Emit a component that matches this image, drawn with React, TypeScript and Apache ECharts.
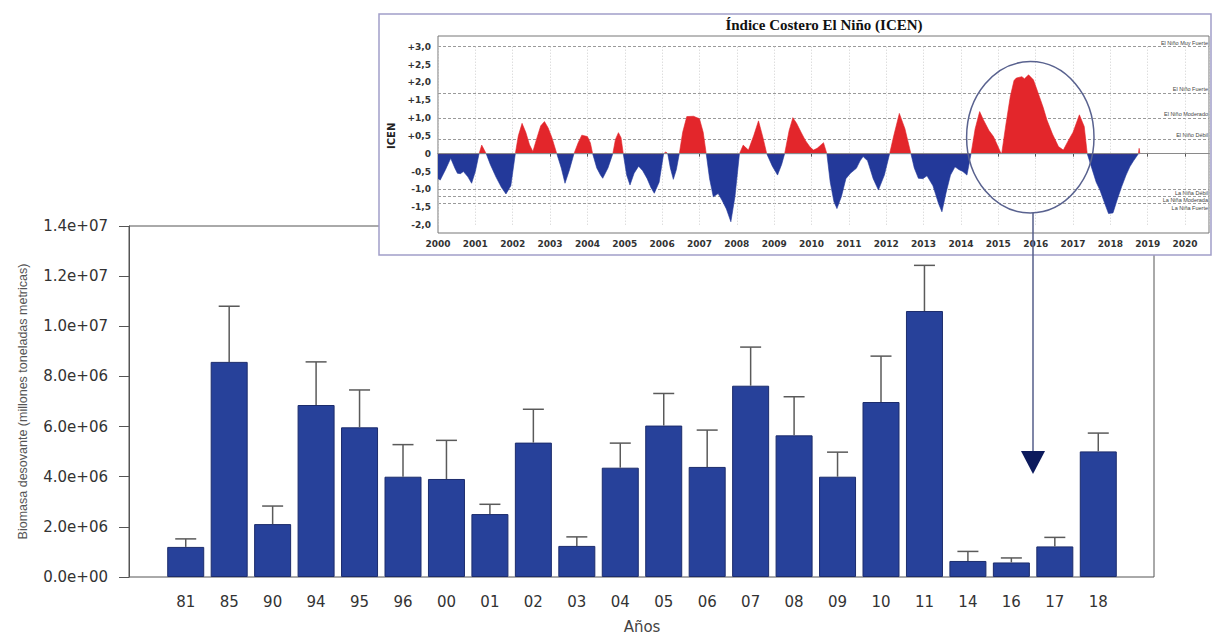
import React, { useEffect, useRef } from 'react';
import * as echarts from 'echarts';

// ---- Main chart data (Biomasa desovante) ----
const categories = ['81', '85', '90', '94', '95', '96', '00', '01', '02', '03', '04', '05', '06', '07', '08', '09', '10', '11', '14', '16', '17', '18'];
const biomass = [1.2e6, 8.58e6, 2.11e6, 6.86e6, 5.97e6, 4.0e6, 3.91e6, 2.51e6, 5.36e6, 1.24e6, 4.36e6, 6.04e6, 4.39e6, 7.63e6, 5.65e6, 4.0e6, 6.98e6, 10.61e6, 0.64e6, 0.58e6, 1.22e6, 5.01e6];
const upperError = [1.52e6, 10.8e6, 2.83e6, 8.58e6, 7.46e6, 5.28e6, 5.45e6, 2.9e6, 6.69e6, 1.6e6, 5.34e6, 7.32e6, 5.86e6, 9.17e6, 7.19e6, 4.98e6, 8.81e6, 12.43e6, 1.02e6, 0.76e6, 1.58e6, 5.74e6];

// ---- Inset data (Índice Costero El Niño) ----
const icenTime = [
  2000.0, 2000.06, 2000.2, 2000.34, 2000.45, 2000.52, 2000.6, 2000.68, 2000.8, 2000.9, 2001.0, 2001.1, 2001.17, 2001.29,
  2001.4, 2001.55, 2001.7, 2001.82, 2001.95, 2002.07, 2002.15, 2002.25, 2002.35, 2002.45, 2002.54, 2002.65, 2002.75,
  2002.85, 2002.95, 2003.05, 2003.18, 2003.3, 2003.4, 2003.52, 2003.64, 2003.75, 2003.85, 2004.0, 2004.08, 2004.14,
  2004.25, 2004.35, 2004.41, 2004.55, 2004.68, 2004.75, 2004.83, 2004.9, 2004.96, 2005.05, 2005.14, 2005.25, 2005.37,
  2005.48, 2005.6, 2005.7, 2005.79, 2005.92, 2006.04, 2006.1, 2006.15, 2006.22, 2006.3, 2006.38, 2006.46, 2006.55,
  2006.66, 2006.84, 2007.0, 2007.1, 2007.18, 2007.27, 2007.37, 2007.5, 2007.6, 2007.72, 2007.84, 2007.95, 2008.07,
  2008.17, 2008.31, 2008.45, 2008.58, 2008.7, 2008.8, 2008.95, 2009.09, 2009.2, 2009.28, 2009.4, 2009.5, 2009.6,
  2009.72, 2009.83, 2009.95, 2010.05, 2010.15, 2010.32, 2010.41, 2010.5, 2010.6, 2010.68, 2010.8, 2010.92, 2011.04,
  2011.2, 2011.3, 2011.38, 2011.5, 2011.65, 2011.79, 2011.95, 2012.09, 2012.2, 2012.35, 2012.5, 2012.66, 2012.75,
  2012.86, 2012.98, 2013.09, 2013.25, 2013.4, 2013.49, 2013.6, 2013.72, 2013.84, 2013.95, 2014.05, 2014.16, 2014.27,
  2014.38, 2014.5, 2014.6, 2014.75, 2014.87, 2014.97, 2015.05, 2015.09, 2015.2, 2015.32, 2015.42, 2015.48, 2015.63,
  2015.7, 2015.81, 2015.94, 2016.07, 2016.2, 2016.3, 2016.45, 2016.61, 2016.74, 2016.88, 2017.0, 2017.17, 2017.3,
  2017.38, 2017.5, 2017.62, 2017.72, 2017.85, 2017.95, 2018.07, 2018.18, 2018.3, 2018.42, 2018.52, 2018.62, 2018.7,
  2018.75, 2018.77, 2018.79,
];
const icenValue = [
  -0.7, -0.74, -0.45, -0.13, -0.4, -0.55, -0.56, -0.5, -0.65, -0.83, -0.5, 0, 0.24, 0,
  -0.3, -0.65, -0.95, -1.13, -0.9, 0, 0.5, 0.85, 0.6, 0.25, 0.06, 0.45, 0.78,
  0.9, 0.72, 0.45, 0, -0.4, -0.83, -0.45, 0, 0.3, 0.52, 0.48, 0.3, 0,
  -0.4, -0.6, -0.69, -0.4, 0, 0.4, 0.59, 0.45, 0, -0.6, -0.88, -0.55, -0.35,
  -0.48, -0.7, -0.95, -1.11, -0.8, 0, 0.05, 0, -0.4, -0.72, -0.45, 0, 0.6,
  1.04, 1.05, 0.98, 0.6, 0, -0.7, -1.21, -1.12, -1.3, -1.55, -1.91, -1.2, 0,
  0.24, 0.1, 0.5, 0.92, 0.45, 0, -0.35, -0.6, -0.3, 0, 0.65, 1.01, 0.85,
  0.6, 0.38, 0.2, 0.1, 0.15, 0.31, 0, -0.8, -1.35, -1.54, -1.2, -0.7, -0.55,
  -0.41, -0.2, -0.08, -0.2, -0.7, -1.02, -0.6, 0, 0.5, 1.13, 0.7, 0, -0.4,
  -0.69, -0.7, -0.62, -0.9, -1.4, -1.63, -1.1, -0.6, -0.37, -0.45, -0.5, -0.6, 0,
  0.7, 1.18, 0.95, 0.65, 0.48, 0.25, 0.06, 0, 0.8, 1.6, 2.05, 2.12, 2.16,
  2.1, 2.21, 2.07, 1.69, 1.3, 0.95, 0.55, 0.2, 0.1, 0.38, 0.6, 1.09, 0.76,
  0, -0.4, -0.8, -1.02, -1.4, -1.68, -1.66, -1.3, -0.93, -0.6, -0.37, -0.2, -0.08,
  0, 0.15, 0,
];
const thresholdValues = [3.0, 1.7, 1.0, 0.4, -1.0, -1.2, -1.4];
const thresholdNames = ['El Niño Muy Fuerte', 'El Niño Fuerte', 'El Niño Moderado', 'El Niño Débil', 'La Niña Débil', 'La Niña Moderada', 'La Niña Fuerte'];

function sciLabel(v: number): string {
  const [m, e] = v.toExponential(1).split('e');
  const sign = e[0] === '-' ? '-' : '+';
  const d = e.replace(/^[+-]/, '').padStart(2, '0');
  return `${m}e${sign}${d}`;
}

function icenLabel(v: number): string {
  if (Math.abs(v) < 1e-9) return '0';
  return (v > 0 ? '+' : '') + v.toFixed(1).replace('.', ',');
}

export default function App() {
  const ref = useRef<HTMLDivElement>(null);

  useEffect(() => {
    if (!ref.current) return;
    const chart = echarts.init(ref.current, undefined, { renderer: 'svg' });

    const axisFont = { fontFamily: 'DejaVu Sans', fontSize: 15, color: '#333' };

    const option: any = {
      animation: false,
      backgroundColor: '#ffffff',
      grid: [
        { left: 129, right: 62, top: 226, bottom: 60, show: true, borderColor: '#555', borderWidth: 1, backgroundColor: 'transparent', z: 0, outerBoundsMode: 'none', containLabel: false },
        { left: 164, right: 96, top: 226, bottom: 60, z: 1, outerBoundsMode: 'none', containLabel: false },
        { left: 438, right: 7, top: 46.7, bottom: 412, z: 10, outerBoundsMode: 'none', containLabel: false },
      ],
      xAxis: [
        { type: 'value', gridIndex: 0, show: false, min: 0, max: 1 },
        {
          type: 'category', gridIndex: 1, data: categories,
          axisLine: { show: false }, axisTick: { show: false },
          axisLabel: { ...axisFont, margin: 17 },
          name: 'Años', nameLocation: 'middle', nameGap: 42,
          nameTextStyle: { fontFamily: 'DejaVu Sans', fontSize: 15, color: '#444' },
          z: 1,
        },
        {
          type: 'value', gridIndex: 2, min: 2000, max: 2020.64, interval: 1, offset: 8, z: 10,
          axisLine: { show: true, lineStyle: { color: '#666', width: 1 } },
          axisTick: { show: true, length: 3, lineStyle: { color: '#555' } },
          axisLabel: {
            fontFamily: 'DejaVu Sans', fontSize: 9, fontWeight: 'bold', color: '#333', margin: 6,
            showMaxLabel: false,
            formatter: (v: number) => (Math.abs(v - Math.round(v)) < 1e-6 ? String(Math.round(v)) : ''),
          },
          splitLine: { show: true, lineStyle: { color: '#cfcfcf', type: [1, 2], width: 1 } },
        },
      ],
      yAxis: [
        {
          type: 'value', gridIndex: 0, min: 0, max: 1.4e7, interval: 2e6, z: 1,
          axisLine: { show: true, lineStyle: { color: '#555', width: 1 } },
          axisTick: { show: true, length: 10, lineStyle: { color: '#555' } },
          axisLabel: { ...axisFont, margin: 21, formatter: (v: number) => sciLabel(v) },
          splitLine: { show: false },
          name: 'Biomasa desovante (millones toneladas metricas)',
          nameLocation: 'middle', nameGap: 100,
          nameTextStyle: { fontFamily: 'Liberation Sans', fontSize: 12.5, color: '#555' },
        },
        { type: 'value', gridIndex: 1, min: 0, max: 1.4e7, show: false },
        {
          type: 'value', gridIndex: 2, min: -2, max: 3, interval: 0.5, z: 10,
          axisLine: { show: false }, axisTick: { show: false },
          splitLine: { show: false },
          axisLabel: { fontFamily: 'DejaVu Sans', fontSize: 9, fontWeight: 'bold', color: '#333', margin: 7, formatter: (v: number) => icenLabel(v) },
          name: 'ICEN', nameLocation: 'middle', nameGap: 40,
          nameTextStyle: { fontFamily: 'DejaVu Sans', fontSize: 10, fontWeight: 'bold', color: '#222' },
        },
      ],
      series: [
        {
          type: 'bar', xAxisIndex: 1, yAxisIndex: 1, data: biomass, barWidth: 37, z: 2,
          itemStyle: { color: '#27419a', borderColor: '#1c2c6c', borderWidth: 1 },
        },
        {
          type: 'custom', xAxisIndex: 1, yAxisIndex: 1, z: 3,
          data: categories.map((_, i) => [i, biomass[i], upperError[i]]),
          encode: { x: 0, y: 2 },
          renderItem: (params: any, api: any) => {
            const i = api.value(0);
            const base = api.coord([i, api.value(1)]);
            const top = api.coord([i, api.value(2)]);
            const half = 10.5;
            const style = { stroke: '#5a5a5a', lineWidth: 1.5 };
            return {
              type: 'group',
              children: [
                { type: 'line', shape: { x1: base[0], y1: base[1], x2: top[0], y2: top[1] }, style },
                { type: 'line', shape: { x1: top[0] - half, y1: top[1], x2: top[0] + half, y2: top[1] }, style },
              ],
            };
          },
        },
        {
          type: 'line', xAxisIndex: 2, yAxisIndex: 2, z: 11, symbol: 'none', silent: true,
          data: icenTime.map((t, i) => [t, Math.max(icenValue[i], 0)]),
          lineStyle: { width: 0.6, color: '#e3262b' },
          areaStyle: { color: '#e3262b', opacity: 1 },
          markLine: {
            silent: true, symbol: 'none', z: 9,
            lineStyle: { color: '#9a9a9a', type: [3, 2], width: 1 },
            data: thresholdValues.map((t, i) => ({
              yAxis: t,
              label: {
                show: true, formatter: thresholdNames[i],
                position: t > 0 ? 'insideEndTop' : 'insideEndBottom',
                fontFamily: 'Liberation Sans', fontSize: 5.5, color: '#444', distance: 1,
              },
            })),
          },
        },
        {
          type: 'line', xAxisIndex: 2, yAxisIndex: 2, z: 11, symbol: 'none', silent: true,
          data: icenTime.map((t, i) => [t, Math.min(icenValue[i], 0)]),
          lineStyle: { width: 0.6, color: '#23399a' },
          areaStyle: { color: '#23399a', opacity: 1 },
          markLine: {
            silent: true, symbol: 'none', z: 12,
            lineStyle: { color: '#8a8a8a', type: 'solid', width: 1 },
            label: { show: false },
            data: [{ yAxis: 0 }],
          },
        },
      ],
      graphic: [
        { type: 'rect', z: 5, shape: { x: 379, y: 14, width: 832, height: 241 }, style: { fill: '#ffffff', stroke: '#a19ec9', lineWidth: 1.5 } },
        { type: 'rect', z: 6, shape: { x: 438, y: 36, width: 771, height: 197 }, style: { fill: 'none', stroke: '#777', lineWidth: 1 } },
        {
          type: 'text', z: 12, x: 824, y: 25,
          style: { text: 'Índice Costero El Niño (ICEN)', align: 'center', verticalAlign: 'middle', fontFamily: 'Liberation Serif', fontSize: 15, fontWeight: 'bold', fill: '#111' },
        },
        { type: 'ellipse', z: 20, shape: { cx: 1030.3, cy: 137.3, rx: 63.7, ry: 75.7 }, style: { fill: 'none', stroke: '#59628f', lineWidth: 1.5 } },
        { type: 'line', z: 20, shape: { x1: 1033, y1: 213, x2: 1033, y2: 452 }, style: { stroke: '#555e8a', lineWidth: 1.5 } },
        { type: 'polygon', z: 20, shape: { points: [[1021, 451], [1045, 451], [1033, 474]] }, style: { fill: '#0c1a5c' } },
      ],
    };

    chart.setOption(option);
    return () => chart.dispose();
  }, []);

  return <div ref={ref} style={{ position: 'fixed', left: 0, top: 0, width: 1216, height: 637 }} />;
}
